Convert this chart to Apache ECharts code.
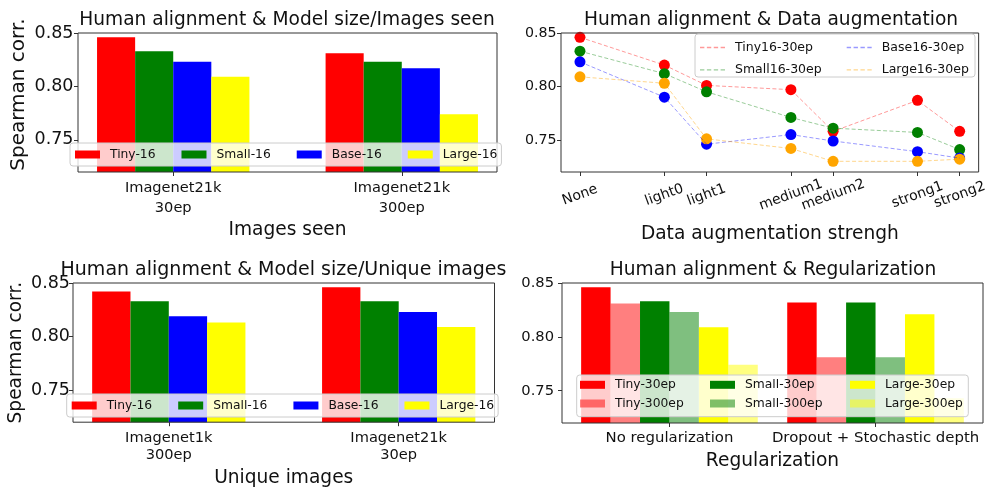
<!DOCTYPE html>
<html><head><meta charset="utf-8">
<script src="https://cdn.jsdelivr.net/npm/echarts@6/dist/echarts.min.js"></script>
<style>html,body{margin:0;padding:0;background:#fff}#c{width:990px;height:489px}</style>
</head><body><div id="c"></div>
<script>
// ---------- Panel 1: Model size / Images seen ----------
const p1Categories = ['Imagenet21k\n30ep', 'Imagenet21k\n300ep'];
const p1Names = ['Tiny-16', 'Small-16', 'Base-16', 'Large-16'];
const p1Tiny = [0.846, 0.831];
const p1Small = [0.833, 0.823];
const p1Base = [0.823, 0.817];
const p1Large = [0.809, 0.774];
// ---------- Panel 2: Data augmentation ----------
const augLabels = ['None', 'light0', 'light1', 'medium1', 'medium2', 'strong1', 'strong2'];
const augPositions = [0, 2, 3, 5, 6, 8, 9];
const augNames = ['Tiny16-30ep', 'Small16-30ep', 'Base16-30ep', 'Large16-30ep'];
const augTiny = [0.846, 0.820, 0.801, 0.797, 0.758, 0.787, 0.758];
const augSmall = [0.833, 0.812, 0.795, 0.771, 0.761, 0.757, 0.741];
const augBase = [0.823, 0.790, 0.746, 0.755, 0.749, 0.739, 0.733];
const augLarge = [0.809, 0.803, 0.751, 0.742, 0.730, 0.730, 0.732];
// ---------- Panel 3: Model size / Unique images ----------
const p3Categories = ['Imagenet1k\n300ep', 'Imagenet21k\n30ep'];
const p3Tiny = [0.842, 0.846];
const p3Small = [0.833, 0.833];
const p3Base = [0.819, 0.823];
const p3Large = [0.813, 0.809];
// ---------- Panel 4: Regularization ----------
const regCategories = ['No regularization', 'Dropout + Stochastic depth'];
const regNames = ['Tiny-30ep', 'Tiny-300ep', 'Small-30ep', 'Small-300ep', 'Large-30ep', 'Large-300ep'];
const regTiny30 = [0.846, 0.832];
const regTiny300 = [0.831, 0.781];
const regSmall30 = [0.833, 0.832];
const regSmall300 = [0.823, 0.781];
const regLarge30 = [0.809, 0.821];
const regLarge300 = [0.774, 0.743];
// ---------- shared ----------
const yTicks = [0.75, 0.80, 0.85];
const yMin = 0.72, yMax = 0.85;

const FONT = 'DejaVu Sans';
const TXT = '#111';
const FRAME = '#333';

const chart = echarts.init(document.getElementById('c'), null, {renderer: 'canvas'});

function gridBox(left, top, width, height) {
  return {left, top, width, height, show: true, borderColor: FRAME, borderWidth: 1,
          backgroundColor: 'transparent', z: 3};
}
function yAx(gi, fs, margin, name, nameGap, nameFs, namePad) {
  const a = {
    gridIndex: gi, type: 'value', min: yMin, max: yMax,
    axisLine: {show: false, onZero: false}, splitLine: {show: false},
    axisTick: {show: true, length: 4, customValues: yTicks, lineStyle: {color: FRAME}},
    axisLabel: {customValues: yTicks, formatter: v => v.toFixed(2), fontSize: fs, color: TXT, margin, fontFamily: FONT}
  };
  if (name) {
    a.name = name; a.nameLocation = 'middle'; a.nameGap = nameGap;
    a.nameTextStyle = {fontSize: nameFs, color: TXT, fontFamily: FONT, padding: namePad};
  }
  return a;
}
function xAxCat(gi, cats, min, max, fs, lh, margin, name, nameGap) {
  const vals = cats.map((c, i) => i);
  return {
    gridIndex: gi, type: 'value', min, max,
    axisLine: {show: false, onZero: false}, splitLine: {show: false},
    axisTick: {show: true, length: 4, customValues: vals, lineStyle: {color: FRAME}},
    axisLabel: {customValues: vals, formatter: v => cats[Math.round(v)], fontSize: fs, lineHeight: lh,
                color: TXT, margin, fontFamily: FONT},
    name, nameLocation: 'middle', nameGap,
    nameTextStyle: {fontSize: 18.6, color: TXT, fontFamily: FONT}
  };
}
function barSeries(name, gi, values, color, widthPct) {
  return {
    type: 'bar', name, xAxisIndex: gi, yAxisIndex: gi,
    data: values.map((v, i) => [i, v]),
    barWidth: widthPct, barGap: '0%', itemStyle: {color}, clip: true,
    emphasis: {disabled: true}
  };
}
function titleAt(text, cx, top, fs) {
  return {text, left: cx, top, textAlign: 'center', padding: 0,
          textStyle: {fontSize: fs, fontWeight: 'normal', color: TXT, fontFamily: FONT}};
}
function legendText(fs) {
  return {fontSize: fs, color: TXT, fontFamily: FONT,
          rich: {a: {fontSize: fs, color: TXT, fontFamily: FONT, padding: [0, 0, 0, 5]}}};
}
function barLegend(names, left, top, fs, gap) {
  return {
    data: names, left, top, orient: 'horizontal', icon: 'rect',
    itemWidth: 25, itemHeight: 8, itemGap: gap, padding: [5.5, 4, 5.5, 5],
    backgroundColor: 'rgba(255,255,255,0.8)', borderColor: '#ccc', borderWidth: 1, borderRadius: 3,
    formatter: '{a|{name}}', textStyle: legendText(fs),
    selectedMode: false, z: 6
  };
}
// a single column of a multi-column legend (background drawn separately)
function colLegend(names, left, top, fs, gap, icon, itemHeight) {
  return {
    data: names, left, top, orient: 'vertical', icon, symbolKeepAspect: false,
    itemWidth: 25, itemHeight, itemGap: gap, padding: 0,
    backgroundColor: 'transparent', borderWidth: 0,
    formatter: '{a|{name}}', textStyle: legendText(fs),
    selectedMode: false, z: 6
  };
}
function legendBox(x, y, width, height) {
  return {type: 'rect', shape: {x, y, width, height, r: 3}, z: 5, silent: true,
          style: {fill: 'rgba(255,255,255,0.8)', stroke: '#cccccc', lineWidth: 1}};
}

const dashIcon = 'path://M0,0h4v1h-4z M6.3,0h4v1h-4z M12.6,0h4v1h-4z M18.9,0h4v1h-4z';

const series = [];
// panel 1
[[p1Tiny, '#ff0000'], [p1Small, '#008000'], [p1Base, '#0000ff'], [p1Large, '#ffff00']].forEach((s, k) => {
  series.push(barSeries(p1Names[k], 0, s[0], s[1], '16.6667%'));
});
// panel 2
const augColors = [['rgba(255,0,0,0.4)', '#ff0000'], ['rgba(0,128,0,0.4)', '#008000'],
                   ['rgba(0,0,255,0.4)', '#0000ff'], ['rgba(255,165,0,0.45)', '#ffa500']];
[augTiny, augSmall, augBase, augLarge].forEach((vals, k) => {
  const pts = augPositions.map((x, i) => [x, vals[i]]);
  series.push({
    type: 'line', name: augNames[k], xAxisIndex: 1, yAxisIndex: 1, data: pts,
    symbol: 'none', itemStyle: {color: augColors[k][0]},
    lineStyle: {color: augColors[k][0], width: 1, type: [4, 2.3]}, emphasis: {disabled: true}
  });
  series.push({
    type: 'scatter', name: augNames[k] + ' pts', xAxisIndex: 1, yAxisIndex: 1, data: pts,
    symbolSize: 11, itemStyle: {color: augColors[k][1], opacity: 1}, emphasis: {disabled: true}
  });
});
// panel 3
[[p3Tiny, '#ff0000'], [p3Small, '#008000'], [p3Base, '#0000ff'], [p3Large, '#ffff00']].forEach((s, k) => {
  series.push(barSeries(p1Names[k], 2, s[0], s[1], '16.6667%'));
});
// panel 4
[[regTiny30, '#ff0000'], [regTiny300, 'rgba(255,0,0,0.5)'], [regSmall30, '#008000'],
 [regSmall300, 'rgba(0,128,0,0.5)'], [regLarge30, '#ffff00'], [regLarge300, 'rgba(255,255,0,0.5)']].forEach((s, k) => {
  series.push(barSeries(regNames[k], 3, s[0], s[1], '14.2857%'));
});

const option = {
  animation: false,
  backgroundColor: '#ffffff',
  textStyle: {fontFamily: FONT},
  title: [
    titleAt('Human alignment & Model size/Images seen', 287, 10.5, 18.6),
    titleAt('Human alignment & Data augmentation', 771, 10.5, 18.6),
    titleAt('Human alignment & Model size/Unique images', 283.5, 261, 19.0),
    titleAt('Human alignment & Regularization', 773, 261, 18.6)
  ],
  grid: [
    gridBox(78, 33, 419, 139),
    gridBox(561, 33, 421, 139),
    gridBox(73, 283, 421.5, 140),
    gridBox(562, 283, 421, 140)
  ],
  xAxis: [
    xAxCat(0, p1Categories, -5 / 12, 17 / 12, 14.6, 20, 6, 'Images seen', 48.5),
    {
      gridIndex: 1, type: 'value', min: -0.45, max: 9.45,
      axisLine: {show: false, onZero: false}, splitLine: {show: false},
      axisTick: {show: true, length: 4, customValues: augPositions, lineStyle: {color: FRAME}},
      axisLabel: {customValues: augPositions, formatter: v => augLabels[augPositions.indexOf(Math.round(v))],
                  rotate: 20, align: 'center', verticalAlign: 'middle', margin: 23, fontSize: 14, color: TXT, fontFamily: FONT},
      name: 'Data augmentation strengh', nameLocation: 'middle', nameGap: 52.8,
      nameTextStyle: {fontSize: 18.6, color: TXT, fontFamily: FONT}
    },
    xAxCat(2, p3Categories, -5 / 12, 17 / 12, 14.6, 17, 8, 'Unique images', 46.8),
    xAxCat(3, regCategories, -0.52143, 1.52143, 14.9, 17, 7, 'Regularization', 28.4)
  ],
  yAxis: [
    yAx(0, 17.5, 4.5, 'Spearman corr.', 49, 20, [0, 0, 0, 16]),
    yAx(1, 14.2, 4.5),
    yAx(2, 17.5, 3, 'Spearman corr.', 47, 18.6, 0),
    yAx(3, 14.7, 8)
  ],
  graphic: [
    legendBox(695, 34, 280, 43),
    legendBox(576.7, 375, 391.6, 41.7)
  ],
  legend: [
    barLegend(p1Names, 70, 143, 12.3, 26),
    colLegend([augNames[0], augNames[1]], 700, 41, 12.5, 9.4, dashIcon, 1.3),
    colLegend([augNames[2], augNames[3]], 846.7, 41, 12.5, 9.4, dashIcon, 1.3),
    barLegend(p1Names, 66.7, 394, 12.3, 26),
    colLegend([regNames[0], regNames[1]], 580, 378.8, 12.3, 6.7, 'rect', 8),
    colLegend([regNames[2], regNames[3]], 710, 378.8, 12.3, 6.7, 'rect', 8),
    colLegend([regNames[4], regNames[5]], 850, 378.8, 12.3, 6.7, 'rect', 8)
  ],
  series
};
chart.setOption(option);
</script>
</body></html>
